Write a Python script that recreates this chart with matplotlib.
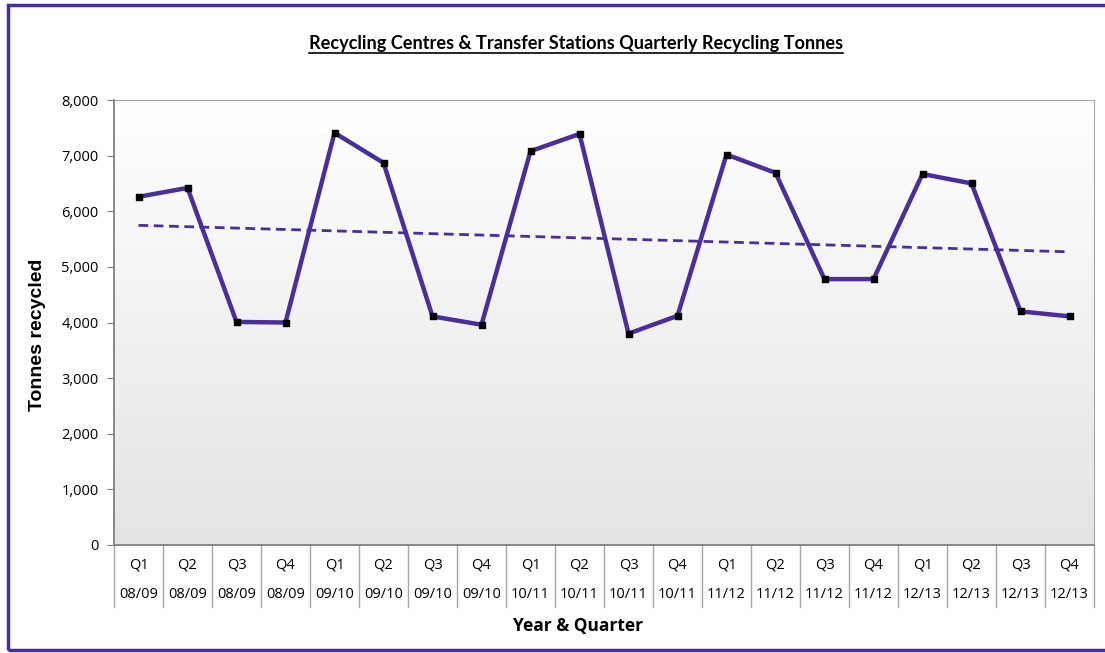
import numpy as np
import matplotlib.pyplot as plt
from matplotlib.patches import Rectangle
import matplotlib.transforms as mtransforms

quarters = ["Q1", "Q2", "Q3", "Q4"] * 5
years = ["08/09"] * 4 + ["09/10"] * 4 + ["10/11"] * 4 + ["11/12"] * 4 + ["12/13"] * 4
tonnes = [6260, 6420, 4010, 4000,
          7410, 6870, 4110, 3960,
          7080, 7390, 3800, 4120,
          7020, 6690, 4780, 4780,
          6670, 6500, 4200, 4110]

purple = "#4B2E9A"
W, H = 1105, 653

fig = plt.figure(figsize=(W / 100, H / 100), dpi=100)
fig.patch.set_facecolor("white")

# purple frame round the chart (right edge falls outside the picture)
frame = Rectangle((7.5 / W, 1 - 650 / H), 1.2, (650 - 4.5) / H, transform=fig.transFigure,
                  fill=False, edgecolor=purple, linewidth=2.5)
fig.patches.append(frame)

ax = fig.add_axes([114 / W, 1 - 545 / H, (1094 - 114) / W, (545 - 100) / H])

x = np.arange(len(tonnes))
ax.set_xlim(-0.5, len(tonnes) - 0.5)
ax.set_ylim(0, 8000)

# gradient background, white at top to light grey at bottom
grad = np.linspace(0, 1, 256).reshape(-1, 1)
ax.imshow(grad, extent=[-0.5, len(tonnes) - 0.5, 0, 8000], aspect="auto",
          cmap=plt.matplotlib.colors.LinearSegmentedColormap.from_list("bg", ["#e4e4e4", "#ffffff"]),
          origin="lower", zorder=0)

ax.plot(x, tonnes, color=purple, linewidth=3.2, zorder=3)
ax.scatter(x, tonnes, marker="s", s=14, color="black", zorder=4)

# linear trend line
a, b = np.polyfit(x, tonnes, 1)
ax.plot(x, a * x + b, color=purple, linestyle=(0, (3.5, 2)), linewidth=2, zorder=2)

for s in ["top", "right"]:
    ax.spines[s].set_color("#a6a6a6")
for s in ["left", "bottom"]:
    ax.spines[s].set_color("#808080")
    ax.spines[s].set_linewidth(1.3)

ax.set_yticks(range(0, 8001, 1000))
ax.set_yticklabels([f"{v:,}" for v in range(0, 8001, 1000)], fontfamily="Open Sans", fontsize=10.5)
ax.tick_params(axis="y", length=5, color="#808080", pad=6)
ax.set_xticks([])

# two-row category axis with separator lines
trans = mtransforms.blended_transform_factory(ax.transData, ax.transAxes)
px = 1 / (545 - 100)
for k in range(len(tonnes) + 1):
    ax.plot([k - 0.5, k - 0.5], [0, -62 * px], transform=trans, color="#a6a6a6",
            linewidth=1, clip_on=False)
for i in x:
    ax.text(i, -20 * px, quarters[i], transform=trans, ha="center", va="center",
            fontfamily="Open Sans", fontsize=10.5)
    ax.text(i, -50 * px, years[i], transform=trans, ha="center", va="center",
            fontfamily="Open Sans", fontsize=10.5)

fig.text(578 / W, 1 - 626 / H, "Year & Quarter", ha="center", va="center",
         fontfamily="Open Sans", fontweight="bold", fontsize=12.5)
fig.text(38 / W, 1 - 335 / H, "Tonnes recycled", ha="center", va="center", rotation=90,
         fontfamily="Liberation Sans", fontweight="bold", fontsize=14)
title = fig.text(576 / W, 1 - 43 / H, "Recycling Centres & Transfer Stations Quarterly Recycling Tonnes",
                 ha="center", va="center", fontfamily="Lato", fontweight="bold", fontsize=13.1)

# underline the title
fig.canvas.draw()
bb = title.get_window_extent()
fig.add_artist(plt.Line2D([bb.x0 / W, bb.x1 / W], [(bb.y0 - 1) / H, (bb.y0 - 1) / H],
                          transform=fig.transFigure, color="black", linewidth=1.2))

fig.savefig("out.png", dpi=100)
